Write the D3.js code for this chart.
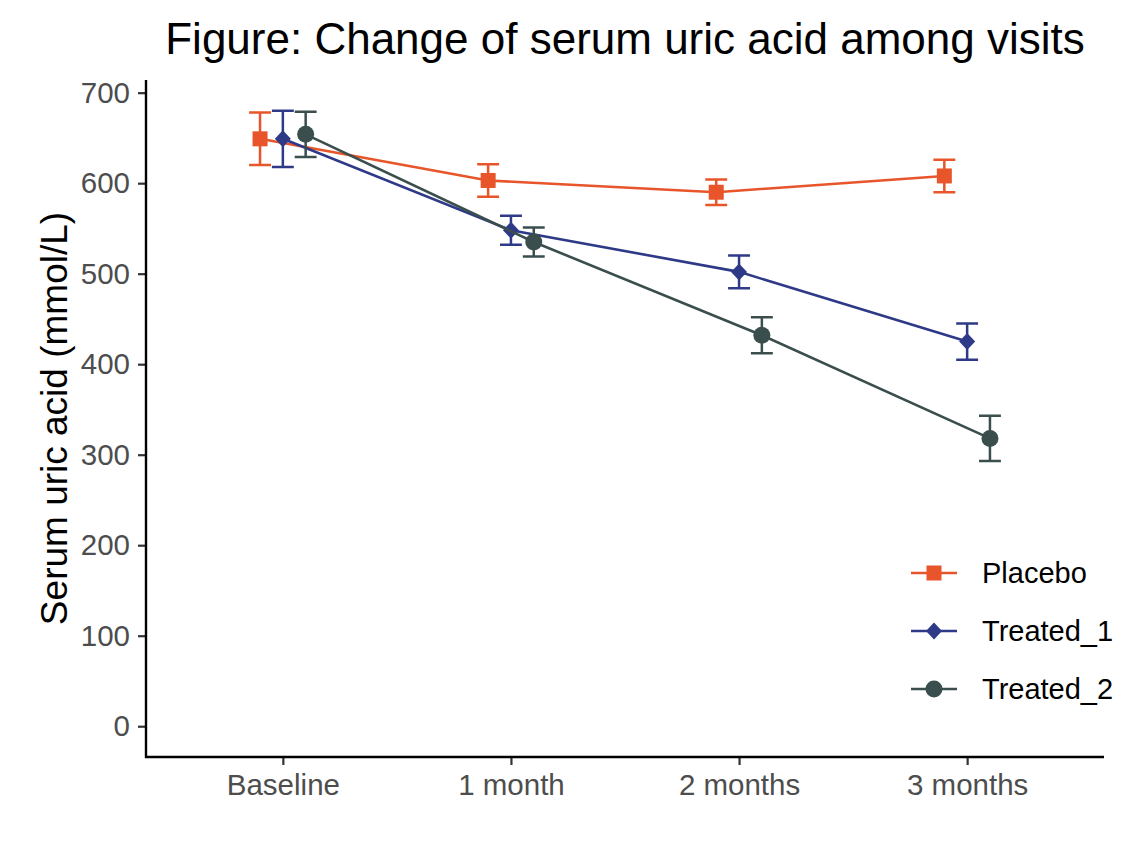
<!DOCTYPE html>
<html>
<head>
<meta charset="utf-8">
<script src="https://cdn.jsdelivr.net/npm/d3@7"></script>
<style>
  html, body { margin: 0; padding: 0; background: #fff; }
  svg { display: block; font-family: "Liberation Sans", Arial, sans-serif; }
</style>
</head>
<body>
<svg id="chart" width="1148" height="843"></svg>
<script>
// ---- data ----
const visits = ["Baseline", "1 month", "2 months", "3 months"];
const groups = ["Placebo", "Treated_1", "Treated_2"];
const placeboMean = [649, 603, 590, 608];
const placeboSE   = [29, 18, 14, 18];
const treated1Mean = [649, 548, 502, 425];
const treated1SE   = [31, 16, 18, 20];
const treated2Mean = [654, 535, 432, 318];
const treated2SE   = [25, 16, 20, 25];
const yTicks = [0, 100, 200, 300, 400, 500, 600, 700];

const colors = ["#E8552A", "#2E3A87", "#3A4E4E"];
const shapes = ["square", "diamond", "circle"];
const dodge = [-0.1, 0, 0.1];

const series = groups.map((g, i) => ({
  name: g,
  color: colors[i],
  shape: shapes[i],
  dodge: dodge[i],
  values: visits.map((v, j) => ({
    visit: v,
    mean: [placeboMean, treated1Mean, treated2Mean][i][j],
    se: [placeboSE, treated1SE, treated2SE][i][j]
  }))
}));

// ---- layout ----
const W = 1148, H = 843;
const panel = { left: 146, right: 1104, top: 80, bottom: 757 };
const svg = d3.select("#chart");

const x = d3.scalePoint().domain(visits).range([panel.left, panel.right]).padding(0.6);
const maxUp = d3.max(series, s => d3.max(s.values, d => d.mean + d.se));
const y = d3.scaleLinear().domain([-0.05 * maxUp, maxUp * 1.05]).range([panel.bottom, panel.top]);
const xp = (s, d) => x(d.visit) + s.dodge * x.step();

// ---- title ----
svg.append("text")
  .attr("x", (panel.left + panel.right) / 2).attr("y", 54)
  .attr("text-anchor", "middle")
  .attr("font-size", 44).attr("fill", "#000")
  .text("Figure: Change of serum uric acid among visits");

// ---- axes ----
const yAxis = svg.append("g").attr("transform", `translate(${panel.left},0)`)
  .call(d3.axisLeft(y).tickValues(yTicks).tickSize(8).tickPadding(8));
const xAxis = svg.append("g").attr("transform", `translate(0,${panel.bottom})`)
  .call(d3.axisBottom(x).tickSize(8).tickPadding(9));
[yAxis, xAxis].forEach(ax => {
  ax.select(".domain").remove();
  ax.selectAll(".tick line").attr("stroke", "#333").attr("stroke-width", 2.2);
  ax.selectAll(".tick text").attr("fill", "#4D4D4D").attr("font-size", 29.5)
    .attr("font-family", "Liberation Sans, Arial, sans-serif");
});
xAxis.selectAll(".tick text").attr("dy", "0.71em");
svg.append("line").attr("x1", panel.left).attr("x2", panel.left)
  .attr("y1", panel.top).attr("y2", panel.bottom + 1)
  .attr("stroke", "#000").attr("stroke-width", 2.4);
svg.append("line").attr("x1", panel.left - 1).attr("x2", panel.right)
  .attr("y1", panel.bottom).attr("y2", panel.bottom)
  .attr("stroke", "#000").attr("stroke-width", 2.4);

svg.append("text")
  .attr("transform", `translate(67,${(panel.top + panel.bottom) / 2}) rotate(-90)`)
  .attr("text-anchor", "middle").attr("font-size", 37).attr("fill", "#000")
  .text("Serum uric acid (mmol/L)");

// ---- marker helper ----
function drawMarker(g, shape, color, cx, cy) {
  if (shape === "square") {
    g.append("rect").attr("x", cx - 7.5).attr("y", cy - 7.5)
      .attr("width", 15).attr("height", 15).attr("fill", color);
  } else if (shape === "diamond") {
    g.append("path").attr("d", `M${cx},${cy - 8.5}L${cx + 8},${cy}L${cx},${cy + 8.5}L${cx - 8},${cy}Z`)
      .attr("fill", color);
  } else {
    g.append("circle").attr("cx", cx).attr("cy", cy).attr("r", 8.5).attr("fill", color);
  }
}

// ---- series ----
const capHalf = 0.048;
const gData = svg.append("g");
series.forEach(s => {
  const g = gData.append("g");
  // error bars
  s.values.forEach(d => {
    const cx = xp(s, d);
    const hw = capHalf * x.step();
    g.append("path")
      .attr("d", `M${cx - hw},${y(d.mean + d.se)}H${cx + hw}M${cx},${y(d.mean + d.se)}V${y(d.mean - d.se)}M${cx - hw},${y(d.mean - d.se)}H${cx + hw}`)
      .attr("fill", "none").attr("stroke", s.color).attr("stroke-width", 2.5);
  });
  // line
  g.append("path").datum(s.values)
    .attr("d", d3.line().x(d => xp(s, d)).y(d => y(d.mean)))
    .attr("fill", "none").attr("stroke", s.color).attr("stroke-width", 2.6);
  // points
  s.values.forEach(d => drawMarker(g, s.shape, s.color, xp(s, d), y(d.mean)));
});

// ---- legend ----
const legY = [573, 631, 689];
const leg = svg.append("g");
series.forEach((s, i) => {
  const ly = legY[i];
  leg.append("line").attr("x1", 911).attr("x2", 957).attr("y1", ly).attr("y2", ly)
    .attr("stroke", s.color).attr("stroke-width", 2.6);
  drawMarker(leg, s.shape, s.color, 934, ly);
  leg.append("text").attr("x", 982).attr("y", ly).attr("dy", "0.36em")
    .attr("font-size", 29).attr("fill", "#000").text(s.name);
});
</script>
</body>
</html>
